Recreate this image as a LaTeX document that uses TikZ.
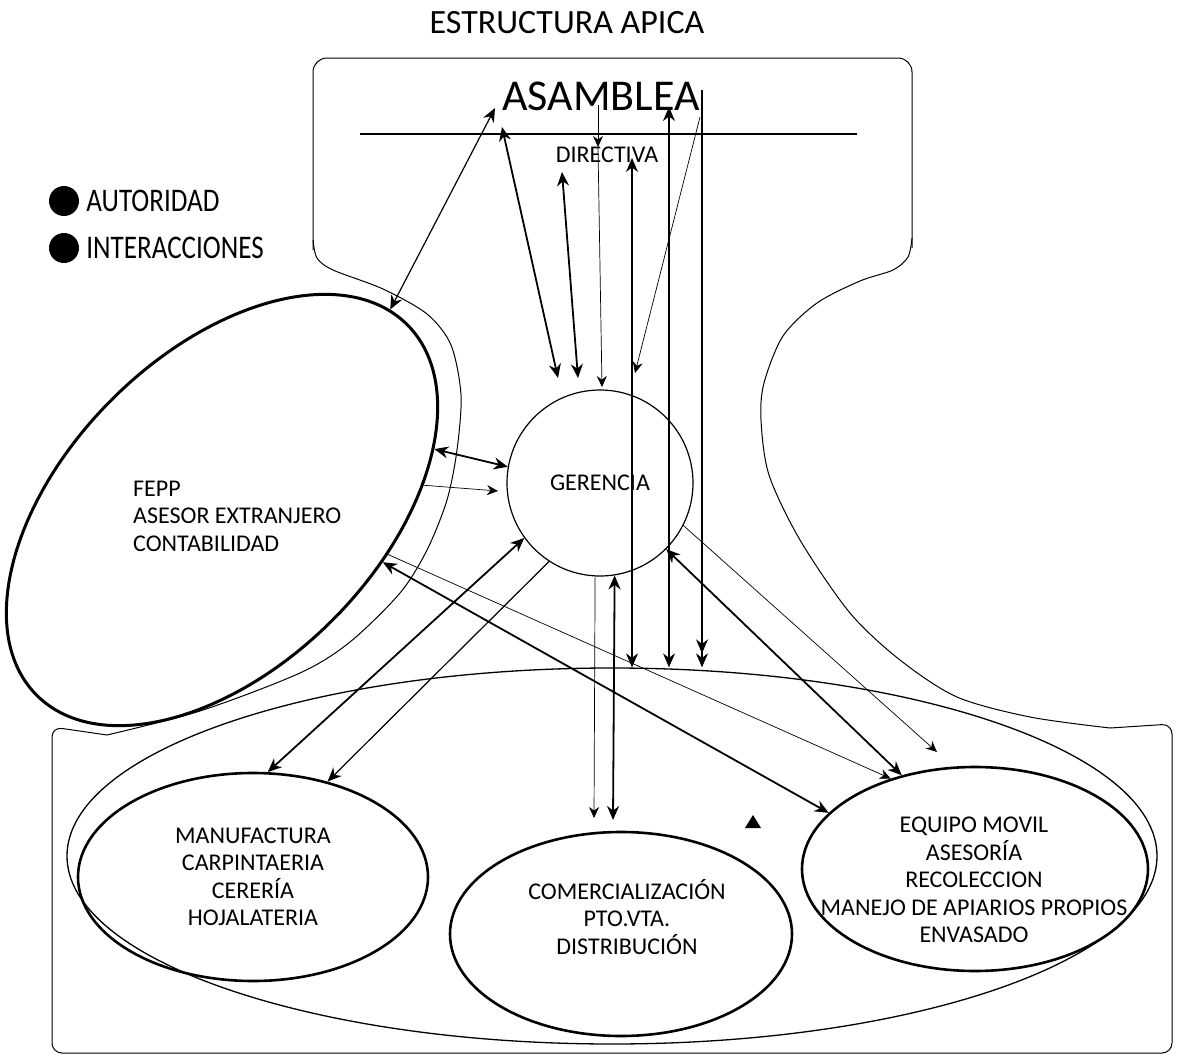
\documentclass[tikz,border=0pt]{standalone}
\usepackage{fontspec}
\setmainfont{Carlito}
\newfontfamily\legendfont{Carlito}[FakeStretch=0.82]
\usetikzlibrary{arrows.meta}
\usetikzlibrary{shapes.geometric}
\usetikzlibrary{positioning}

\begin{document}
\begin{tikzpicture}[x=1pt,y=-1pt,>={Stealth[length=14pt,width=12pt]},
    unit node/.style={ellipse,draw,line width=2.6pt,inner sep=0pt},
    txt/.style={font=\fontsize{24}{27.5}\selectfont,align=center,inner sep=0pt},
    legend/.style={font=\legendfont\fontsize{33}{33}\selectfont,inner sep=0pt},
    frame/.style={line width=1pt},
    heavy/.style={line width=1.8pt},
    medium/.style={line width=1.2pt},
    light/.style={line width=0.7pt,>={Stealth[length=11pt,width=10pt]}}]
\useasboundingbox (0,0) rectangle (1179,1060);

% outline
\draw[frame,rounded corners=14pt] (313,250) -- (313,58) -- (912,58) -- (912,248);
\draw[frame,rounded corners=10pt] (107,735) -- (52,727) -- (52,1053) -- (1172,1053) -- (1172,724) -- (1110,728);
\draw[frame] plot[smooth] coordinates {(313,240) (317,258) (333,270) (383,289) (427,314) (451,345) (461,395) (457,450) (447,500) (427,550) (400,593) (350,642) (300,673) (200,711) (107,735)};
\draw[frame] plot[smooth] coordinates {(912,238) (908,257) (893,270) (860,281) (817,303) (783,336) (764,383) (761,420) (769,475) (800,540) (850,613) (900,660) (957,697) (1030,717) (1110,728)};

\node[font=\fontsize{34}{34}\selectfont] (title) at (567,23) {ESTRUCTURA APICA};

% legend
\node[circle,fill,minimum size=30pt,inner sep=0pt] (dot1) at (64,201) {};
\node[circle,fill,minimum size=30pt,inner sep=0pt] (dot2) at (64,248) {};
\node[legend,right=7pt of dot1] (autoridad) {AUTORIDAD};
\node[legend,right=7pt of dot2] (interacciones) {INTERACCIONES};

% asamblea
\node[font=\fontsize{44}{44}\selectfont,inner sep=0pt] (asamblea) at (601,96) {ASAMBLEA};
\draw[medium] (360,134) -- (857,134);
\node[txt] (directiva) at (607,155) {DIRECTIVA};

% units
\node[circle,draw,line width=1.2pt,minimum size=186pt,txt] (gerencia) at (600,483) {GERENCIA};
\node[unit node,line width=3pt,rotate=45,minimum width=524pt,minimum height=312pt] (fepp) at (222,510) {};
\node[txt,align=left,anchor=west] (fepptxt) at (133,516) {FEPP\\ASESOR EXTRANJERO\\CONTABILIDAD};

\node[ellipse,draw,line width=1.3pt,minimum width=1090pt,minimum height=376pt] (base) at (612,856) {};
\node[unit node,txt,minimum width=350pt,minimum height=208pt] (manuf) at (253,877) {MANUFACTURA\\CARPINTAERIA\\CERERÍA\\HOJALATERIA};
\node[unit node,minimum width=342pt,minimum height=204pt] (comer) at (621,934) {};
\node[txt] (comertxt) at (627,917) {COMERCIALIZACIÓN\\PTO.VTA.\\DISTRIBUCIÓN};
\node[unit node,minimum width=346pt,minimum height=204pt] (equipo) at (975,869) {};
\node[txt] (equipotxt) at (974,880) {EQUIPO MOVIL\\ASESORÍA\\RECOLECCION\\MANEJO DE APIARIOS PROPIOS\\ENVASADO};

% arrow ends
\coordinate (asa-a) at (495,108);
\coordinate (asa-b) at (502,127);
\coordinate (asa-c) at (598,105);
\coordinate (asa-d) at (700,117);
\coordinate (asa-e) at (669,107);
\coordinate (asa-f) at (702,90);
\coordinate (dir-a) at (562,172);
\coordinate (dir-b) at (598,147);
\coordinate (dir-c) at (632,158);
\coordinate (ger-a) at (558,378);
\coordinate (ger-b) at (578,378);
\coordinate (ger-c) at (602,387);
\coordinate (ger-d) at (635,373);
\coordinate (ger-f) at (498,491);
\coordinate (com-a) at (594,818);
\coordinate (com-b) at (613,820);
\coordinate (eq-a) at (937,752);

% from the top
\draw[medium,<->] (fepp.5) -- (asa-a);
\draw[heavy,<->] (asa-b) -- (ger-a);
\draw[heavy,<->] (dir-a) -- (ger-b);
\draw[light,->] (asa-c) -- (dir-b);
\draw[light,->] (dir-b) -- (ger-c);
\draw[medium,<->] (dir-c) -- (dir-c |- base.north);
\draw[light,->] (asa-d) -- (ger-d);
\draw[medium,<->] (asa-e) -- (asa-e |- base.north);
\draw[medium,->>] (asa-f) -- (asa-f |- base.north);

% around gerencia
\draw[heavy,<->] (fepp.-29) -- (gerencia.170);
\draw[light,->] (fepp.-38) -- (ger-f);
\draw[heavy,<->] (manuf.82) -- (gerencia.216);
\draw[medium,->] (gerencia.237) -- (manuf.52);
\draw[heavy,<->] (fepp.-63) -- (equipo.159);
\draw[light,->] (fepp.-60) -- (equipo.133);
\draw[heavy,<->] (gerencia.-45) -- (equipo.128);
\draw[light,->] (gerencia.-27) -- (eq-a);
\draw[light,->] (gerencia.267) -- (com-a);
\draw[heavy,<->] (gerencia.279) -- (com-b);

\fill (745,828) -- (761,828) -- (753,815) -- cycle;
\end{tikzpicture}
\end{document}
